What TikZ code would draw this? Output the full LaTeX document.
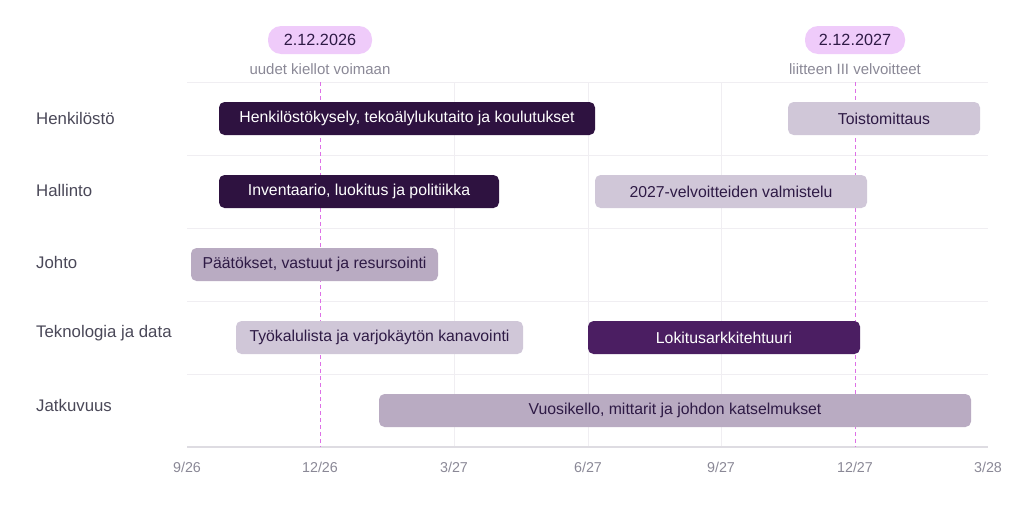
\documentclass[tikz,border=0pt]{standalone}
\usepackage{fontspec}
\setmainfont{Liberation Sans}
\definecolor{gridc}{HTML}{F0EEF2}
\definecolor{axisc}{HTML}{DEDCE2}
\definecolor{dashc}{HTML}{DD70E6}
\definecolor{pillc}{HTML}{EFCBFA}
\definecolor{darkbar}{HTML}{2E1240}
\definecolor{purplebar}{HTML}{4B1E62}
\definecolor{lightbar}{HTML}{D0C7D8}
\definecolor{midbar}{HTML}{B9ABC2}
\definecolor{darktext}{HTML}{2E1A45}
\definecolor{labelc}{HTML}{4A4858}
\definecolor{greyt}{HTML}{8A8896}
\tikzset{
  bar/.style={rounded corners=5.5pt, minimum height=33pt, inner sep=0pt, font=\fontsize{15.8}{18}\selectfont},
  darkb/.style={bar, fill=darkbar, text=white},
  purpb/.style={bar, fill=purplebar, text=white},
  lightb/.style={bar, fill=lightbar, text=darktext},
  midb/.style={bar, fill=midbar, text=darktext},
  rowlabel/.style={anchor=west, inner sep=0pt, text=labelc, font=\fontsize{16.8}{19}\selectfont},
  ticklabel/.style={text=greyt, font=\fontsize{14.3}{16}\selectfont},
  pill/.style={fill=pillc, rounded corners=13pt, minimum width=104pt, minimum height=28pt, inner sep=0pt, text=darktext, font=\fontsize{16.2}{18}\selectfont},
  subt/.style={text=greyt, font=\fontsize{15}{17}\selectfont},
  marker/.style={dashc, line width=0.9pt, dash pattern=on 4pt off 3pt}
}
\begin{document}
\begin{tikzpicture}[x=1pt,y=-1pt]
\useasboundingbox (0,0) rectangle (1024,509);
% grid
\foreach \y in {82,155,228,301,374}
  \draw[gridc, line width=1pt] (187,\y) -- (988,\y);
\foreach \x in {454,588,721}
  \draw[gridc, line width=1pt] (\x,82) -- (\x,447);
\draw[axisc, line width=1.5pt] (187,447) -- (988,447);
% markers
\coordinate (m1top) at (320,82);
\coordinate (m1bot) at (320,447);
\coordinate (m2top) at (855,82);
\coordinate (m2bot) at (855,447);
\draw[marker] (m1top) -- (m1bot);
\draw[marker] (m2top) -- (m2bot);
\node[pill] (p1) at (320,40) {2.12.2026};
\node[pill, minimum width=100pt] (p2) at (855,40) {2.12.2027};
\node[subt] (s1) at (320,69) {uudet kiellot voimaan};
\node[subt] (s2) at (855,69) {liitteen III velvoitteet};
% row labels
\node[rowlabel] (r1) at (36,118) {Henkilöstö};
\node[rowlabel] (r2) at (36,190) {Hallinto};
\node[rowlabel] (r3) at (36,262) {Johto};
\node[rowlabel] (r4) at (36,333) {Teknologia ja data};
\node[rowlabel] (r5) at (36,405) {Jatkuvuus};
% bars
\node[darkb, minimum width=376pt] (b1) at (407,118.5) {Henkilöstökysely, tekoälylukutaito ja koulutukset};
\node[lightb, minimum width=192pt] (b2) at (884,118.5) {Toistomittaus};
\node[darkb, minimum width=280pt] (b3) at (359,191.5) {Inventaario, luokitus ja politiikka};
\node[lightb, minimum width=272pt] (b4) at (731,191.5) {2027-velvoitteiden valmistelu};
\node[midb, minimum width=247pt] (b5) at (314.5,264.5) {Päätökset, vastuut ja resursointi};
\node[lightb, minimum width=287pt] (b6) at (379.5,337.5) {Työkalulista ja varjokäytön kanavointi};
\node[purpb, minimum width=272pt] (b7) at (724,337.5) {Lokitusarkkitehtuuri};
\node[midb, minimum width=592pt] (b8) at (675,410.5) {Vuosikello, mittarit ja johdon katselmukset};
% tick labels
\node[ticklabel] (t1) at (187,467) {9/26};
\node[ticklabel] (t2) at (320,467) {12/26};
\node[ticklabel] (t3) at (454,467) {3/27};
\node[ticklabel] (t4) at (588,467) {6/27};
\node[ticklabel] (t5) at (721,467) {9/27};
\node[ticklabel] (t6) at (855,467) {12/27};
\node[ticklabel] (t7) at (988,467) {3/28};
\end{tikzpicture}
\end{document}
